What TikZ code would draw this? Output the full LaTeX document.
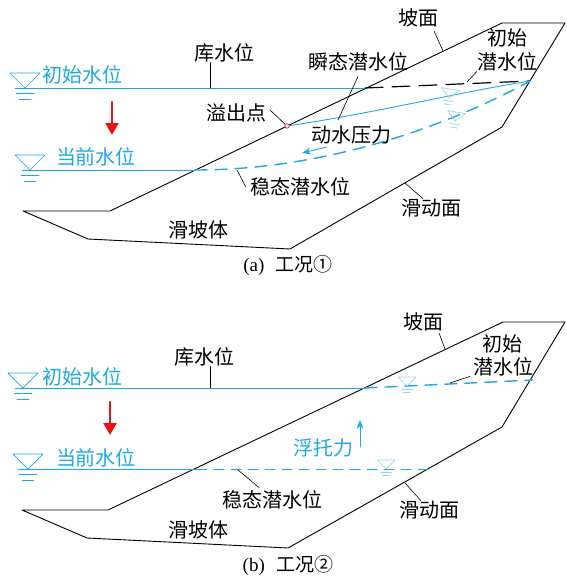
\documentclass[tikz,border=0pt]{standalone}
\usepackage{fontspec}
\setmainfont{Liberation Serif}
\newfontfamily\cjk{Noto Sans CJK SC}
\usetikzlibrary{arrows.meta}
\definecolor{wasserblau}{RGB}{30,168,228}
\definecolor{hellblau}{RGB}{150,212,238}
\definecolor{pfeilrot}{RGB}{232,20,20}
\tikzset{
  lbl/.style={font=\cjk\fontsize{20}{24}\selectfont, inner sep=0pt},
  wlbl/.style={lbl, text=wasserblau},
  captxt/.style={font=\fontsize{19}{23}\selectfont, inner sep=0pt},
  leader/.style={black, line width=0.6pt},
  body/.style={black, line width=0.9pt},
  wline/.style={wasserblau, line width=0.9pt},
  wdash/.style={wasserblau, line width=1.4pt, dash pattern=on 12pt off 8pt},
  wflow/.style={wasserblau, line width=0.9pt, -{Stealth[length=9pt,width=7pt]}},
  sinken/.style={pfeilrot, line width=2.4pt, -{Triangle[length=12pt,width=13pt]}},
  wsym/.pic={
    \draw[pic actions] (-15,-15) -- (15,-15) -- (0,0) -- cycle;
    \draw[pic actions] (-9,5) -- (9,5) (-6,11) -- (6,11);
  },
}

\begin{document}
\begin{tikzpicture}[x=1pt,y=-1pt,line cap=round,line join=round]
\useasboundingbox (0,0) rectangle (567,576);

% Teil (a): instationaerer Zustand
\draw[body] (23,211) -- (110,211) -- (502,23) -- (565,23) -- (502,127) -- (290,249) -- (88,239) -- cycle;
\node[lbl] (kuA) at (224,53) {库水位};
\node[lbl] (pmA) at (418,18) {坡面};
\node[lbl] (csA1) at (507,38) {初始};
\node[lbl] (csA2) at (507,62) {潜水位};
\node[lbl] (stA) at (358,62) {瞬态潜水位};
\node[lbl] (yiA) at (236,113) {溢出点};
\node[lbl] (dyA) at (351,135) {动水压力};
\node[lbl] (wtA) at (300,187) {稳态潜水位};
\node[lbl] (hmA) at (431,208) {滑动面};
\node[lbl] (htA) at (198,230) {滑坡体};
\node[wlbl] (iwA) at (82,75) {初始水位};
\node[wlbl] (cwA) at (96,157) {当前水位};
\node[captxt] (capA) at (288,265) {(a)\hspace{0.6em}{\cjk 工况①}};

\coordinate (iwA0) at (15,88);
\coordinate (iwA1) at (365,88);
\coordinate (rtA) at (530,81);
\coordinate (cwA0) at (22,170);
\coordinate (cwA1) at (195,170);
\draw[wline] (iwA0) -- (iwA1);
\draw[black, line width=1.2pt, dash pattern=on 18pt off 9pt] (iwA1) -- (rtA);
\draw[wline] (cwA0) -- (cwA1);
\draw[wdash] (cwA1) .. controls (320,170) and (440,130) .. (rtA);
\node[circle, draw=pfeilrot, fill=white, line width=0.7pt, minimum size=4.5pt, inner sep=0pt] (outA) at (287,126) {};
\draw[wline] (outA) .. controls (380,112) and (460,92) .. (rtA);

\pic[wasserblau, line width=0.7pt] at (25,88) {wsym};
\pic[wasserblau, line width=0.7pt] at (30,170) {wsym};
\pic[hellblau, line width=0.7pt, scale=0.6, rotate=-10] at (449,98) {wsym};
\pic[hellblau, line width=0.7pt, scale=0.6, rotate=-10] at (455,121) {wsym};

% Hinweislinien
\coordinate (kuA1) at (210,88);
\draw[leader] (kuA1) -- (kuA1 |- kuA.south);
\coordinate (pmA1) at (443,51);
\draw[leader] (pmA1) -- ([xshift=-4pt,yshift=-4pt]pmA.south east);
\coordinate (ldA1) at (467,82);
\draw[leader] (ldA1) -- (csA2.south west);
\coordinate (stA1) at (338,120);
\draw[leader] (stA1) -- ([yshift=-5pt]stA.south);
\coordinate (yiA1) at (270,110);
\draw[leader] (yiA1) -- (outA);
\coordinate (wtA1) at (237,170);
\draw[leader] (wtA1) -- ([xshift=-4pt]wtA.west);
\coordinate (hmA1) at (405,183);
\draw[leader] (hmA1) -- ([xshift=-8pt]hmA.north);

% Pfeile
\coordinate (dyA1) at (327,147);
\coordinate (dyA2) at (302,153);
\draw[wflow] (dyA1) -- (dyA2);
\coordinate (rdA1) at (112,102);
\coordinate (rdA2) at (112,135);
\draw[sinken] (rdA1) -- (rdA2);

% Teil (b): stationaerer Zustand
\draw[body] (22,510) -- (108,510) -- (503,322) -- (565,322) -- (502,427) -- (288,548) -- (87,538) -- cycle;
\node[lbl] (kuB) at (204,357) {库水位};
\node[lbl] (pmB) at (423,322) {坡面};
\node[lbl] (csB1) at (502,344) {初始};
\node[lbl] (csB2) at (503,367) {潜水位};
\node[wlbl] (ftB) at (323,448) {浮托力};
\node[lbl] (wtB) at (272,500) {稳态潜水位};
\node[lbl] (hmB) at (429,510) {滑动面};
\node[lbl] (htB) at (198,530) {滑坡体};
\node[wlbl] (iwB) at (82,377) {初始水位};
\node[wlbl] (cwB) at (96,458) {当前水位};
\node[captxt] (capB) at (288,565) {(b)\hspace{0.6em}{\cjk 工况②}};

\coordinate (iwB0) at (15,388);
\coordinate (iwB1) at (365,388);
\coordinate (rtB) at (533,380);
\coordinate (cwB0) at (18,469);
\coordinate (cwB1) at (197,469);
\coordinate (cwB2) at (428,469);
\draw[wline] (iwB0) -- (iwB1);
\draw[wdash] (iwB1) -- (rtB);
\draw[wline] (cwB0) -- (cwB1);
\draw[wasserblau, line width=1pt, dash pattern=on 10pt off 7pt] (cwB1) -- (cwB2);

\pic[wasserblau, line width=0.7pt] at (23,388) {wsym};
\pic[wasserblau, line width=0.7pt] at (28,469) {wsym};
\pic[hellblau, line width=0.7pt, scale=0.6] at (407,386) {wsym};
\pic[hellblau, line width=0.7pt, scale=0.6] at (386,469) {wsym};

% Hinweislinien
\coordinate (kuB1) at (210,388);
\draw[leader] (kuB1) -- (kuB1 |- kuB.south);
\coordinate (pmB1) at (445,349);
\draw[leader] (pmB1) -- ([xshift=-4pt,yshift=-2pt]pmB.south east);
\coordinate (ldB1) at (450,383);
\draw[leader] (ldB1) -- ([xshift=-3pt]csB2.south west);
\coordinate (wtB1) at (238,470);
\draw[leader] (wtB1) -- ([xshift=-13pt,yshift=3pt]wtB.north);
\coordinate (hmB1) at (405,483);
\draw[leader] (hmB1) -- ([xshift=-8pt]hmB.north);

% Pfeile
\coordinate (ftB1) at (360,447);
\coordinate (ftB2) at (360,420);
\draw[wflow] (ftB1) -- (ftB2);
\coordinate (rdB1) at (110,402);
\coordinate (rdB2) at (110,435);
\draw[sinken] (rdB1) -- (rdB2);
\end{tikzpicture}
\end{document}
